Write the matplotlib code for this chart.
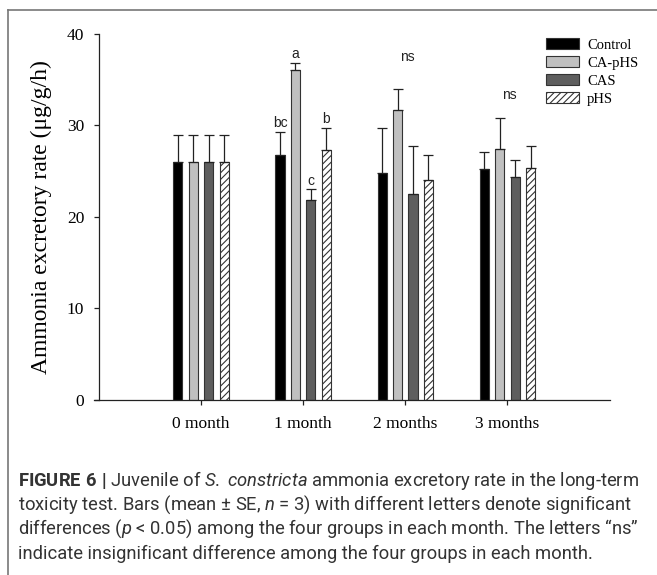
import numpy as np
import matplotlib
matplotlib.use("Agg")
import matplotlib.pyplot as plt
from matplotlib.lines import Line2D
from matplotlib.patches import Patch

# Taux d'excrétion d'ammoniac (moyenne et SE vers le haut)
months = ["0 month", "1 month", "2 months", "3 months"]
groups = ["Control", "CA-pHS", "CAS", "pHS"]
means = {
    "Control": [26.0, 26.7, 24.8, 25.2],
    "CA-pHS": [26.0, 36.0, 31.6, 27.4],
    "CAS": [26.0, 21.8, 22.5, 24.3],
    "pHS": [26.0, 27.3, 24.0, 25.3],
}
errors = {
    "Control": [2.9, 2.6, 4.9, 1.9],
    "CA-pHS": [2.9, 0.8, 2.3, 3.4],
    "CAS": [2.9, 1.2, 5.2, 1.9],
    "pHS": [2.9, 2.4, 2.7, 2.4],
}
# lettres de signification pour 1 mois, "ns" pour 2 et 3 mois
letters_1m = ["bc", "a", "c", "b"]
ns_months = [2, 3]
ns_y = [37.4, 33.3]

colors = {"Control": "#000000", "CA-pHS": "#c0c0c0", "CAS": "#5e5e5e", "pHS": "white"}
hatches = {"Control": None, "CA-pHS": None, "CAS": None, "pHS": "/////"}

plt.rcParams["hatch.linewidth"] = 0.8
plt.rcParams["mathtext.fontset"] = "custom"
plt.rcParams["mathtext.rm"] = "Roboto"
plt.rcParams["mathtext.it"] = "Roboto:italic"
plt.rcParams["mathtext.bf"] = "Roboto:bold"

fig = plt.figure(figsize=(6.57, 5.75), dpi=100)
ax = fig.add_axes([94.3 / 657, 1 - 400 / 575, (609.6 - 94.3) / 657, (400 - 33.5) / 575])

x = np.arange(len(months))
width = 0.09
step = 0.151
offsets = (np.arange(len(groups)) - 1.5) * step

for i, g in enumerate(groups):
    xpos = x + offsets[i]
    ax.bar(xpos, means[g], width, color=colors[g], edgecolor="#333333",
           linewidth=0.8, hatch=hatches[g], zorder=2)
    ax.errorbar(xpos, means[g], yerr=[np.zeros(len(months)), errors[g]], fmt="none",
                ecolor="#222222", elinewidth=0.9, capsize=3.3, capthick=0.9, zorder=3)
    ax.annotate(letters_1m[i], (xpos[1], means[g][1] + errors[g][1]), xytext=(0, 1),
                textcoords="offset points", ha="center", va="bottom",
                fontsize=10, family="Liberation Sans", color="#222222")

for m, yv in zip(ns_months, ns_y):
    ax.text(x[m] + 0.02, yv, "ns", ha="center", va="center", fontsize=10,
            family="Liberation Sans", color="#222222")

ax.set_xlim(-1.045, 4.0)
ax.set_ylim(0, 40)
ax.spines["left"].set_position(("data", -1.0))
ax.spines["top"].set_visible(False)
ax.spines["right"].set_visible(False)
for s in ["left", "bottom"]:
    ax.spines[s].set_linewidth(0.9)
    ax.spines[s].set_color("#222222")
ax.set_xticks(x)
ax.set_xticklabels(months, family="Liberation Serif", fontsize=12.5)
ax.set_yticks([0, 10, 20, 30, 40])
ax.set_yticklabels(["0", "10", "20", "30", "40"], family="Liberation Serif", fontsize=12.5)
ax.tick_params(axis="y", direction="out", length=3.6, width=0.9, pad=7, color="#222222")
ax.tick_params(axis="x", direction="out", length=3.6, width=0.9, pad=8, color="#222222")
ax.set_ylabel("Ammonia excretory rate (μg/g/h)", family="Liberation Serif",
              fontsize=17, labelpad=11)

handles = [Patch(facecolor=colors[g], edgecolor="#333333", linewidth=0.8, hatch=hatches[g])
           for g in groups]
ax.legend(handles, groups, loc="upper left", bbox_to_anchor=(545.5 / 657, 1 - 38 / 575),
          bbox_transform=fig.transFigure, frameon=False, prop={"family": "Liberation Serif", "size": 10.5},
          handlelength=2.3, handleheight=0.8, labelspacing=0.3, handletextpad=0.55,
          borderpad=0, borderaxespad=0)

# cadre gris autour de la figure
fig.add_artist(Line2D([8 / 657, 1], [1 - 10 / 575, 1 - 10 / 575], color="#777777", lw=1.2))
fig.add_artist(Line2D([8 / 657, 8 / 657], [0, 1 - 10 / 575], color="#777777", lw=1.2))

caption = [
    r"$\mathbf{FIGURE\ 6\ |}$ Juvenile of $\mathit{S.}$ $\mathit{constricta}$ ammonia excretory rate in the long-term",
    r"toxicity test. Bars (mean ± SE, $\mathit{n}$ = 3) with different letters denote significant",
    r"differences ($\mathit{p}$ < 0.05) among the four groups in each month. The letters “ns”",
    "indicate insignificant difference among the four groups in each month.",
]
for k, line in enumerate(caption):
    fig.text(18 / 657, 1 - (480 + 24.5 * k) / 575, line, family="Roboto", fontsize=13.2,
             color="#333333", va="center", ha="left")

fig.savefig("out.png", dpi=100)
